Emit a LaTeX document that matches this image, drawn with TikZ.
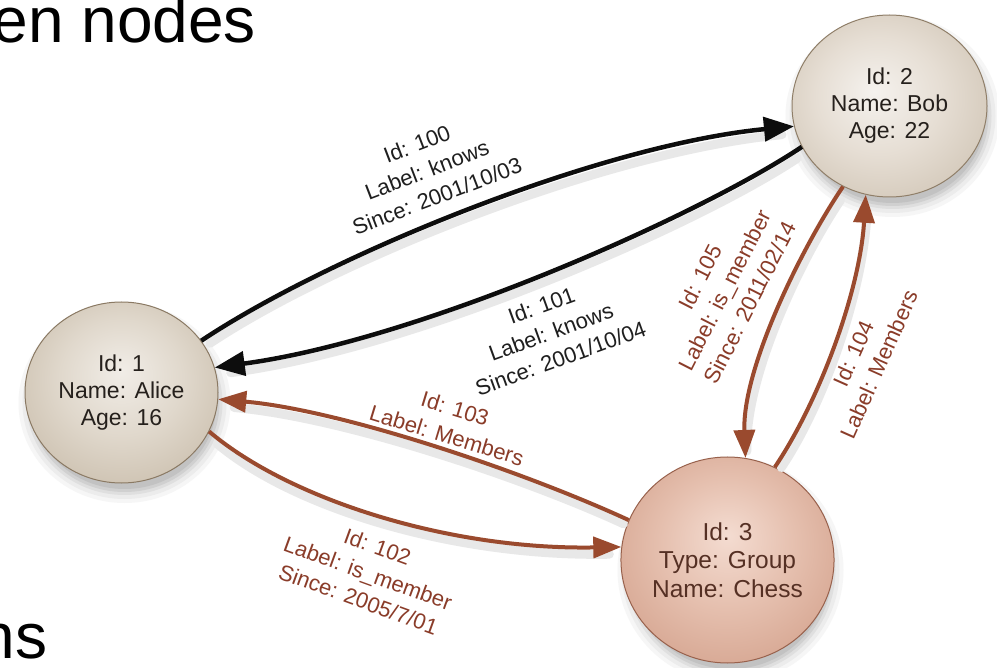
\documentclass[tikz,border=0pt]{standalone}
\usepackage{fontspec}
\setmainfont{Liberation Sans}
\usetikzlibrary{arrows.meta,shapes.geometric}

\definecolor{aliceA}{HTML}{F1EDE7}
\definecolor{aliceB}{HTML}{E0D8CC}
\definecolor{aliceC}{HTML}{C5B8A5}
\definecolor{aliceD}{HTML}{A99983}
\definecolor{aliceE}{HTML}{8A7963}
\definecolor{bobA}{HTML}{F5F2EE}
\definecolor{bobB}{HTML}{E6DED4}
\definecolor{bobC}{HTML}{CBBFAE}
\definecolor{bobD}{HTML}{B0A08A}
\definecolor{bobE}{HTML}{8F7E68}
\definecolor{chessA}{HTML}{F4DCD1}
\definecolor{chessB}{HTML}{E5BFAE}
\definecolor{chessC}{HTML}{D09C86}
\definecolor{chessD}{HTML}{B9826C}
\definecolor{chessE}{HTML}{98614C}
\definecolor{nodetext}{HTML}{25201C}
\definecolor{chesstext}{HTML}{553024}
\definecolor{brownline}{HTML}{9A4A2E}
\definecolor{browntext}{HTML}{8A3C29}
\definecolor{shadeA}{HTML}{F6F6F6}
\definecolor{shadeB}{HTML}{ECECEC}
\definecolor{shadeC}{HTML}{DFDFDF}
\definecolor{shadeD}{HTML}{D0D0D0}
\definecolor{shadeE}{HTML}{C2C2C2}

\pgfdeclareradialshading{aliceshade}{\pgfpoint{0bp}{6bp}}{color(0bp)=(aliceA); color(16bp)=(aliceB); color(36bp)=(aliceC); color(47bp)=(aliceD); color(50bp)=(aliceE)}
\pgfdeclareradialshading{bobshade}{\pgfpoint{-4bp}{4bp}}{color(0bp)=(bobA); color(16bp)=(bobB); color(36bp)=(bobC); color(47bp)=(bobD); color(50bp)=(bobE)}
\pgfdeclareradialshading{chessshade}{\pgfpoint{0bp}{6bp}}{color(0bp)=(chessA); color(16bp)=(chessB); color(36bp)=(chessC); color(47bp)=(chessD); color(50bp)=(chessE)}

\tikzset{
  entity/.style={ellipse, shade, line width=1pt, align=center, inner sep=0pt,
    text=nodetext, font=\fontsize{23}{27}\selectfont},
  knows/.style={draw=black!95, line width=4.5pt,
    -{Triangle[length=30pt,width=24pt]}},
  member/.style={draw=brownline, line width=4pt,
    -{Triangle[length=28pt,width=21pt]}},
  eshadow/.style={draw=black!9, line width=9pt, line cap=round, shorten <=8pt, shorten >=14pt},
  blabel/.style={font=\fontsize{22}{28}\selectfont, align=center, text=black!88, inner sep=0pt},
  rlabel/.style={blabel, text=browntext},
  bigtext/.style={font=\fontsize{64}{64}\selectfont, text=black, inner sep=0pt, anchor=base west},
  sh1/.style={fill=shadeA}, sh2/.style={fill=shadeB}, sh3/.style={fill=shadeC},
  sh4/.style={fill=shadeD}, sh5/.style={fill=shadeE},
}

\begin{document}
\begin{tikzpicture}[x=1pt, y=-1pt]
\fill[white] (0,0) rectangle (997,668);
\useasboundingbox (0,0) rectangle (997,668);

% soft shadows under the nodes (drawn first)
\fill[sh1] (124.5,403) ellipse [x radius=106pt, y radius=100pt];
\fill[sh2] (124.5,403) ellipse [x radius=102pt, y radius=96pt];
\fill[sh3] (124.5,403) ellipse [x radius=98pt, y radius=92pt];
\fill[sh4] (124.5,403) ellipse [x radius=95pt, y radius=89pt];
\fill[sh5] (124.5,403) ellipse [x radius=92pt, y radius=86pt];
\fill[sh1] (892.5,116) ellipse [x radius=107pt, y radius=101pt];
\fill[sh2] (892.5,116) ellipse [x radius=103pt, y radius=97pt];
\fill[sh3] (892.5,116) ellipse [x radius=99pt, y radius=93pt];
\fill[sh4] (892.5,116) ellipse [x radius=96pt, y radius=90pt];
\fill[sh5] (892.5,116) ellipse [x radius=93pt, y radius=87pt];
\fill[sh1] (730.5,570) ellipse [x radius=113pt, y radius=113pt];
\fill[sh2] (730.5,570) ellipse [x radius=109pt, y radius=109pt];
\fill[sh3] (730.5,570) ellipse [x radius=105pt, y radius=105pt];
\fill[sh4] (730.5,570) ellipse [x radius=102pt, y radius=102pt];
\fill[sh5] (730.5,570) ellipse [x radius=99pt, y radius=99pt];

% slide text fragments
\node[bigtext] (title) at (-7.6,43) {en nodes};
\node[bigtext] (foot) at (-20.6,658) {ns};

% entity nodes
\node[entity, shading=aliceshade, draw=aliceE, minimum width=193pt, minimum height=181pt]
  (alice) at (121.5,392.5) {Id: 1\\Name: Alice\\Age: 16};
\node[entity, shading=bobshade, draw=bobE, minimum width=195pt, minimum height=182pt]
  (bob) at (889.5,106) {Id: 2\\Name: Bob\\Age: 22};
\node[entity, shading=chessshade, draw=chessE, minimum width=206pt, minimum height=206pt,
  text=chesstext, font=\fontsize{24.5}{28.5}\selectfont]
  (chess) at (727.5,560) {Id: 3\\Type: Group\\Name: Chess};

% soft shadows of the connectors
\draw[eshadow] ([shift={(2,7)}]alice.33) .. controls (332,262) and (602,152) .. ([shift={(2,7)}]bob.192);
\draw[eshadow] ([shift={(2,7)}]bob.205) .. controls (702,222) and (422,347) .. ([shift={(2,7)}]alice.15);
\draw[eshadow] ([shift={(2,7)}]chess.158) .. controls (522,477) and (342,417) .. ([shift={(2,7)}]alice.-4);
\draw[eshadow] ([shift={(2,7)}]alice.-24) .. controls (292,507) and (452,557) .. ([shift={(2,7)}]chess.173);
\draw[eshadow] ([shift={(2,7)}]bob.-120) .. controls (802,257) and (744,377) .. ([shift={(2,7)}]chess.80);
\draw[eshadow] ([shift={(2,7)}]chess.63) .. controls (822,407) and (862,297) .. ([shift={(2,7)}]bob.-105);

% connectors
\draw[knows] (alice.33) .. controls (330,255) and (600,145) .. (bob.192);
\draw[knows] (bob.205) .. controls (700,215) and (420,340) .. (alice.15);
\draw[member] (chess.158) .. controls (520,470) and (340,410) .. (alice.-4);
\draw[member] (alice.-24) .. controls (290,500) and (450,550) .. (chess.173);
\draw[member] (bob.-120) .. controls (800,250) and (742,370) .. (chess.80);
\draw[member] (chess.63) .. controls (820,400) and (860,290) .. (bob.-105);

% connector labels
\node[blabel, rotate=21] (l100) at (427,170) {Id: 100\\Label: knows\\Since: 2001/10/03};
\node[blabel, rotate=20] (l101) at (551,332) {Id: 101\\Label: knows\\Since: 2001/10/04};
\node[rlabel, rotate=-17] (l103) at (451,422) {Id: 103\\Label: Members};
\node[rlabel, rotate=-20] (l102) at (368,573) {Id: 102\\Label: is\_member\\Since: 2005/7/01};
\node[rlabel, rotate=63] (l105) at (725,290) {Id: 105\\Label: is\_member\\Since: 2011/02/14};
\node[rlabel, rotate=66] (l104) at (866,359) {Id: 104\\Label: Members};
\end{tikzpicture}
\end{document}
